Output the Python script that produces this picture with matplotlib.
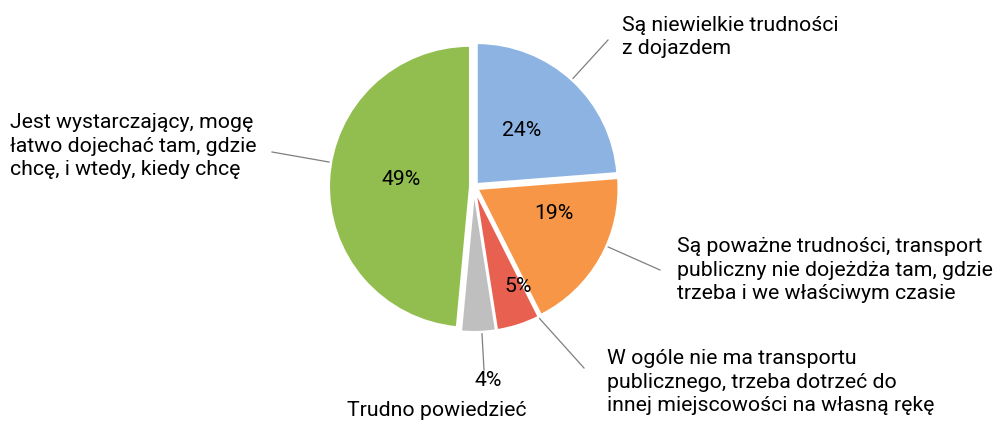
import numpy as np
import matplotlib.pyplot as plt

plt.rcParams['font.family'] = ['Roboto', 'DejaVu Sans']

# dane
kategorie = [
    "Są niewielkie trudności\nz dojazdem",
    "Są poważne trudności, transport\npubliczny nie dojeżdża tam, gdzie\ntrzeba i we właściwym czasie",
    "W ogóle nie ma transportu\npublicznego, trzeba dotrzeć do\ninnej miejscowości na własną rękę",
    "Trudno powiedzieć",
    "Jest wystarczający, mogę\nłatwo dojechać tam, gdzie\nchcę, i wtedy, kiedy chcę",
]
wartosci = [24, 19, 5, 4, 49]
kolory = ["#8DB3E2", "#F79646", "#E8604F", "#BFBFBF", "#92BE4F"]

W, H = 996, 422
fig = plt.figure(figsize=(W / 100, H / 100), dpi=100)
ax = fig.add_axes([0, 0, 1, 1])

cx, cy, r = 474, H - 187, 141
# explode w matplotlib jest w jednostkach danych
wedges, _ = ax.pie(wartosci, colors=kolory, startangle=90, counterclock=False,
                   center=(cx, cy), radius=r, explode=[4, 4, 4, 4, 4],
                   wedgeprops=dict(edgecolor='white', linewidth=1.5), frame=True)
ax.set_xlim(0, W)
ax.set_ylim(0, H)
ax.set_aspect('equal')
ax.axis('off')

FS = 15.3
# procenty wewnątrz: ułamek promienia i korekta kąta (stopnie)
pct_dist = [0.525, 0.6, 0.77, None, 0.52]
pct_kat = [3, 11, 6, 0, -3]
# etykiety: punkt końca linii, środek bloku tekstu
koniec_linii = [(608, 40), (660, 270), (584, 368), (484, 370), (272, 152)]
tekst_poz = [(622, 37), (677, 270), (607, 382), (437, 410), (10, 146)]
tekst_ha = ['left', 'left', 'left', 'center', 'left']

for i, w in enumerate(wedges):
    t1, t2 = sorted([w.theta1, w.theta2])
    kat = np.deg2rad((t1 + t2) / 2)
    ox, oy = w.center
    if pct_dist[i] is not None:
        d = pct_dist[i] * r
        k = kat + np.deg2rad(pct_kat[i])
        ax.text(cx + d * np.cos(k), cy + d * np.sin(k), f"{wartosci[i]}%",
                ha='center', va='center', fontsize=FS, color='black')
    # linia odniesienia: od najbliższego punktu łuku wycinka
    ex, ey = koniec_linii[i]
    ey = H - ey
    a = np.degrees(np.arctan2(ey - oy, ex - ox))
    a = t1 + (a - t1) % 360
    if a > t2:
        a = t2 if (a - t2) < (t1 + 360 - a) else t1
    a = np.deg2rad(a)
    sx, sy = ox + (r + 2) * np.cos(a), oy + (r + 2) * np.sin(a)
    ax.plot([sx, ex], [sy, ey], color='#7F7F7F', linewidth=0.9)
    tx, ty = tekst_poz[i]
    if i == 3:
        ax.text(488, H - 381, f"{wartosci[i]}%", ha='center', va='center', fontsize=FS)
    ax.text(tx, H - ty, kategorie[i], ha=tekst_ha[i], va='center', fontsize=FS,
            linespacing=1.3)

fig.savefig('out.png', dpi=100)
